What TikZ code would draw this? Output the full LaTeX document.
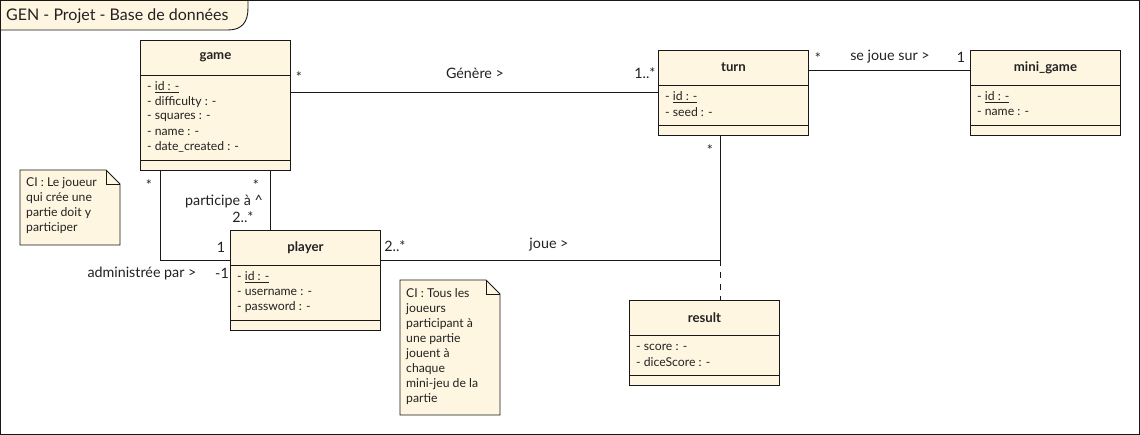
\documentclass[tikz,border=0pt]{standalone}
\usepackage{fontspec}
\setmainfont{Lato}
\usetikzlibrary{calc}
\definecolor{cfill}{HTML}{FEF6E0}
\definecolor{cdraw}{HTML}{181818}
\definecolor{ctext}{HTML}{222222}
\tikzset{
  cbox/.style={draw=cdraw, fill=cfill, line width=0.9pt, inner sep=0pt},
  cline/.style={draw=cdraw, line width=0.9pt},
  ctitle/.style={font=\fontsize{13.2}{15}\selectfont\bfseries, text=ctext, inner sep=0pt},
  attr/.style={font=\fontsize{12.2}{14}\selectfont, text=ctext, anchor=west, inner sep=0pt},
  lbl/.style={font=\fontsize{14.3}{16}\selectfont, text=ctext, inner sep=0pt},
  notetext/.style={font=\fontsize{12.2}{15.1}\selectfont, text=ctext, align=left, anchor=north west, inner sep=0pt},
  assoc/.style={draw=cdraw, line width=0.9pt},
}
\begin{document}
\begin{tikzpicture}[x=1pt,y=-1pt]
\useasboundingbox (0,0) rectangle (1140,435);
\fill[white] (0,0) rectangle (1140,435);
\draw[cline] (0.5,0.5) rectangle (1139.5,434.5);
% title tab
\draw[cline, fill=cfill] (0.5,0.5) -- (248,0.5) -- (248,8) .. controls (248,22) and (242,30) .. (228,30) -- (0.5,30) -- cycle;
\node[font=\fontsize{16}{18}\selectfont, text=ctext, anchor=west, inner sep=0pt] (title) at (6,16) {GEN - Projet - Base de données};

% game
\node[cbox, minimum width=150, minimum height=130, anchor=north west] (game) at (140,40) {};
\draw[cline] ([yshift=-35]game.north west) -- ([yshift=-35]game.north east);
\draw[cline] ([yshift=10]game.south west) -- ([yshift=10]game.south east);
\node[ctitle] (gamet) at ([yshift=-17.5]game.north) {game};
\node[attr] (ga1) at (147,87) {- \underline{id : -}};
\node[attr] (ga2) at (147,102) {- difficulty : -};
\node[attr] (ga3) at (147,117) {- squares : -};
\node[attr] (ga4) at (147,132) {- name : -};
\node[attr] (ga5) at (147,147) {- date\_created : -};

% turn
\node[cbox, minimum width=150, minimum height=85, anchor=north west] (turn) at (658,50) {};
\draw[cline] ([yshift=-35]turn.north west) -- ([yshift=-35]turn.north east);
\draw[cline] ([yshift=10]turn.south west) -- ([yshift=10]turn.south east);
\node[ctitle] (turnt) at ([yshift=-17.5]turn.north) {turn};
\node[attr] (ta1) at (665,97) {- \underline{id : -}};
\node[attr] (ta2) at (665,112) {- seed : -};

% mini_game
\node[cbox, minimum width=150, minimum height=85, anchor=north west] (mini) at (970,50) {};
\draw[cline] ([yshift=-35]mini.north west) -- ([yshift=-35]mini.north east);
\draw[cline] ([yshift=10]mini.south west) -- ([yshift=10]mini.south east);
\node[ctitle] (minit) at ([yshift=-17.5]mini.north) {mini\_game};
\node[attr] (ma1) at (977,97) {- \underline{id : -}};
\node[attr] (ma2) at (977,112) {- name : -};

% player
\node[cbox, minimum width=150, minimum height=100, anchor=north west] (player) at (230,230) {};
\draw[cline] ([yshift=-35]player.north west) -- ([yshift=-35]player.north east);
\draw[cline] ([yshift=10]player.south west) -- ([yshift=10]player.south east);
\node[ctitle] (playert) at ([yshift=-17.5]player.north) {player};
\node[attr] (pa1) at (237,277) {- \underline{id : -}};
\node[attr] (pa2) at (237,292) {- username : -};
\node[attr] (pa3) at (237,307) {- password : -};

% result
\node[cbox, minimum width=150, minimum height=85, anchor=north west] (result) at (629,300) {};
\draw[cline] ([yshift=-35]result.north west) -- ([yshift=-35]result.north east);
\draw[cline] ([yshift=10]result.south west) -- ([yshift=10]result.south east);
\node[ctitle] (resultt) at ([yshift=-17.5]result.north) {result};
\node[attr] (ra1) at (636,347) {- score : -};
\node[attr] (ra2) at (636,362) {- diceScore : -};

% notes
\draw[cline, fill=cfill] (20,170) -- (106,170) -- (120,184) -- (120,245) -- (20,245) -- cycle;
\draw[cline] (106,170) -- (106,184) -- (120,184);
\node[notetext] (note1) at (26,177) {CI : Le joueur\\qui crée une\\partie doit y\\participer};

\draw[cline, fill=cfill] (400,280) -- (486,280) -- (500,294) -- (500,415) -- (400,415) -- cycle;
\draw[cline] (486,280) -- (486,294) -- (500,294);
\node[notetext] (note2) at (406,288) {CI : Tous les\\joueurs\\participant à\\une partie\\jouent à\\chaque\\mini-jeu de la\\partie};

% associations
\draw[assoc] (turn.west) -- (turn.west -| game.east);
\node[lbl] (l1) at (475,73) {Génère >};
\node[lbl] (l1a) at (299,77) {*};
\node[lbl] (l1b) at (645,73) {1..*};

\coordinate (tm) at (808,70);
\draw[assoc] (tm) -- (tm -| mini.west);
\node[lbl] (l2) at (890,57) {se joue sur >};
\node[lbl] (l2a) at (818,58) {*};
\node[lbl] (l2b) at (961,57) {1};

\coordinate (j) at (720,260);
\draw[assoc] (turn.south -| j) -- (j) -- (j -| player.east);
\draw[assoc, dashed, dash pattern=on 6pt off 6pt] (j) -- (j |- result.north);
\node[lbl] (l3) at (549,245) {joue >};
\node[lbl] (l3a) at (710,150) {*};
\node[lbl] (l3b) at (395,246) {2..*};

\coordinate (c1) at (160,260);
\draw[assoc] (game.south -| c1) -- (c1) -- (c1 -| player.west);
\node[lbl] (l4) at (142,273) {administrée par >};
\node[lbl] (l4a) at (149,185) {*};
\node[lbl] (l4b) at (221,247) {1};
\node[lbl] (l4c) at (222,273) {-1};

\coordinate (c2) at (270,200);
\draw[assoc] (game.south -| c2) -- (player.north -| c2);
\node[lbl] (l5) at (224,201) {participe à \^{}};
\node[lbl] (l5a) at (256,185) {*};
\node[lbl] (l5b) at (243,217) {2..*};
\end{tikzpicture}
\end{document}
